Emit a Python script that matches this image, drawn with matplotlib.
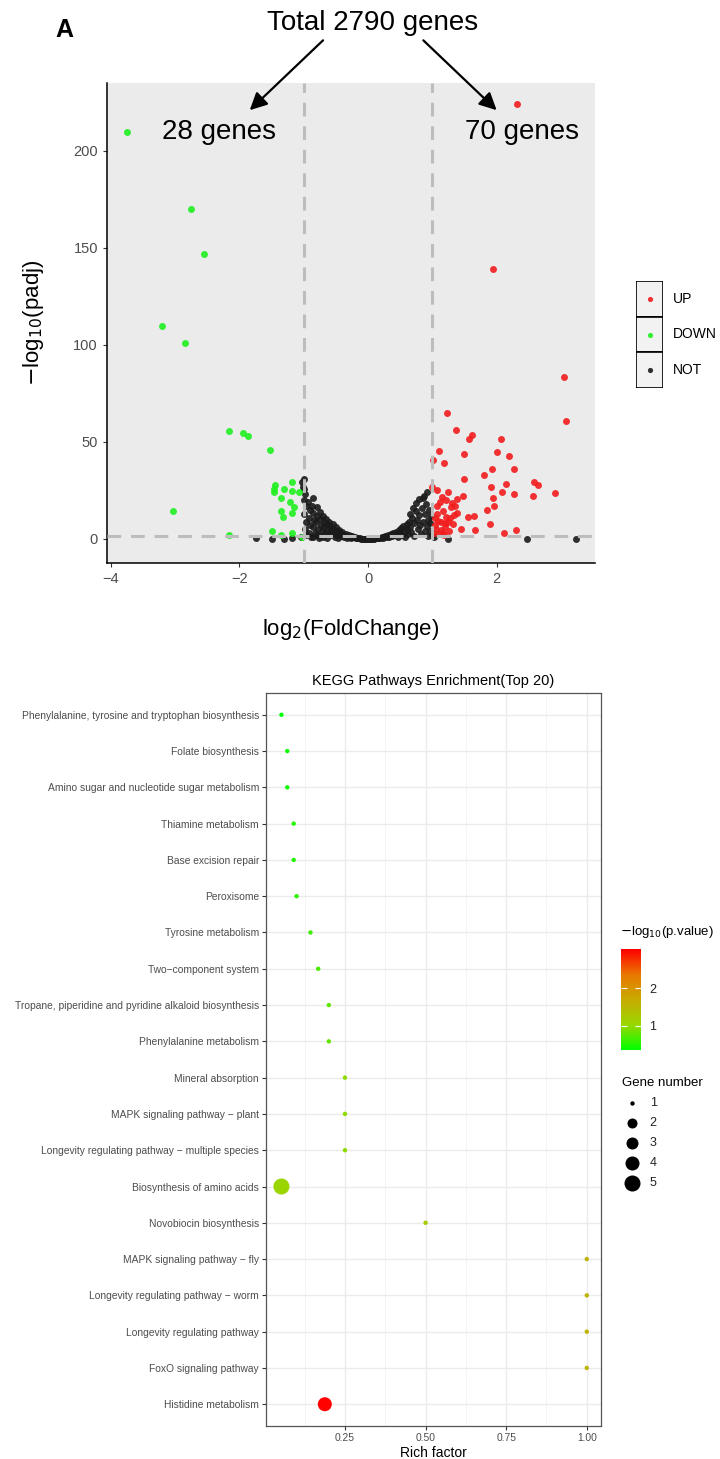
import numpy as np
import matplotlib.pyplot as plt
from matplotlib.colors import LinearSegmentedColormap
from matplotlib.patches import Rectangle

plt.rcParams['font.family'] = ['Liberation Sans', 'DejaVu Sans']

# ==========================================
# 1. Volcano data (log2FC, -log10 padj)
# ==========================================
UP_X = [2.32, 1.95, 3.04, 3.08, 1.23, 1.37, 1.57, 1.62, 2.07, 1.11, 1.01, 1.18, 1.49, 2.00,
        2.19, 1.93, 2.27, 1.81, 1.49, 2.58, 2.65, 2.15, 1.91, 1.00, 1.07, 1.24, 2.08, 2.27,
        2.56, 2.90, 1.47, 1.94, 1.15, 1.21, 1.30, 1.39, 1.29, 1.96, 1.85, 1.16, 1.39, 1.33,
        1.07, 1.55, 1.65, 1.04, 1.22, 1.28, 1.14, 1.20, 1.32, 1.89, 1.44, 1.66, 2.30, 2.11,
        1.02, 1.06, 1.10, 1.13, 1.17, 1.20, 1.08, 1.12, 1.25, 1.35, 1.04, 1.18, 1.26, 1.09]
UP_Y = [224, 139, 83.7, 61, 65.1, 56, 51.7, 53.4, 51.5, 45.2, 40.6, 39.2, 43.8, 44.7,
        42.8, 36.2, 36.1, 33, 30.9, 29.5, 28, 28.2, 26.6, 27, 25.3, 24.1, 24.1, 23.2,
        22, 23.7, 22, 21.3, 21.5, 20.1, 18.4, 20.5, 16.5, 17.2, 15, 14.6, 13.6, 12.2,
        12.7, 11.5, 11.9, 10.6, 11.5, 10.6, 8.6, 8.1, 7.6, 7.9, 5.2, 4.8, 4.8, 2.9,
        3, 5, 2.5, 4.5, 3, 6, 17, 19, 9, 17, 7, 2, 4, 9.5]

DOWN_X = [-3.75, -2.75, -2.55, -3.20, -2.85, -3.04, -2.17, -1.94, -1.86, -1.52, -2.17, -1.49,
          -1.36, -1.18, -1.02, -1.44, -1.46, -1.47, -1.30, -1.18, -1.18, -1.08, -1.35, -1.22,
          -1.15, -1.35, -1.18, -1.32]
DOWN_Y = [210, 170, 147, 110, 101, 14.6, 55.8, 54.8, 53.3, 45.7, 2, 4.1,
          2, 2.9, 1.2, 28, 25.6, 24, 25.9, 29.4, 24.6, 24.2, 21, 18.9,
          16.7, 14.6, 13.6, 11.2]

NOT_X = [-1.02, -1.00, -1.01, -0.99, -0.98, -1.00, -0.97, -0.99, -0.96, -0.98, -0.97,
         -0.93, -0.91, -0.92, -0.90, -0.92, -0.89,
         -0.86, -0.87, -0.85, -0.84, -0.86, -0.83, -0.85,
         -0.80, -0.79, -0.81, -0.78, -0.80, -0.77,
         -0.75, -0.74, -0.73, -0.72, -0.74,
         -0.70, -0.69, -0.68, -0.67, -0.70,
         -0.65, -0.64, -0.63, -0.62, -0.64,
         -0.60, -0.59, -0.58, -0.57,
         -0.55, -0.54, -0.53, -0.52,
         -0.50, -0.49, -0.48, -0.47,
         -0.45, -0.44, -0.42,
         -0.40, -0.39, -0.37,
         -0.35, -0.34, -0.32,
         -0.30, -0.28, -0.26,
         -0.25, -0.23, -0.20, -0.19, -0.17, -0.15, -0.13, -0.11, -0.09, -0.07, -0.05, -0.03, -0.01,
         0.01, 0.03, 0.05, 0.07, 0.09, 0.11, 0.13, 0.15, 0.17, 0.19, 0.21, 0.23, 0.25, 0.27,
         0.29, 0.31, 0.33, 0.35, 0.37, 0.39, 0.41, 0.43, 0.45, 0.46, 0.48, 0.50, 0.52, 0.53,
         0.55, 0.57, 0.58, 0.60, 0.61, 0.62, 0.64, 0.65, 0.66, 0.67, 0.69, 0.70, 0.71, 0.72,
         0.74, 0.75, 0.76, 0.77, 0.79, 0.80, 0.81, 0.82, 0.84, 0.85, 0.86, 0.87, 0.88, 0.89,
         0.90, 0.91, 0.92, 0.93, 0.94, 0.95, 0.96, 0.97, 0.98, 0.99,
         -1.74, -1.50, -1.18, -1.05, -1.30, 1.03, 1.25, 2.47, 3.23]
NOT_Y = [29.5, 31, 27, 25.5, 23, 20, 17, 13, 9, 5, 2,
         19, 15, 11, 7, 3, 1,
         21, 17, 13.5, 10, 6, 3, 0.8,
         16.5, 12, 8.5, 5, 2, 0.5,
         14, 10.5, 7, 4, 1.5,
         12, 9, 6, 3, 1,
         10.5, 7.5, 5, 2.5, 0.6,
         9, 6.5, 4, 1.8,
         7.5, 5, 3, 1,
         6, 4, 2.2, 0.7,
         4.8, 3, 1.5,
         3.8, 2.2, 1,
         2.8, 1.5, 0.6,
         2, 1.1, 0.4,
         1.5, 0.8, 1, 0.4, 0.6, 0.3, 0.4, 0.2, 0.15, 0.1, 0.05, 0.02, 0,
         0, 0.03, 0.06, 0.1, 0.2, 0.25, 0.35, 0.5, 0.4, 0.7, 0.9, 0.6, 1.2, 1.5,
         0.8, 2, 1.2, 2.6, 1.6, 3.2, 2, 3.8, 2.5, 1, 4.5, 3, 5.5, 2,
         6.5, 4, 1, 7.5, 5, 2.5, 9, 6, 13, 3.5, 11, 16, 8, 1.5,
         14.5, 18.5, 10, 5, 20.5, 12.5, 7, 2.5, 16, 21, 9, 22, 4, 13,
         18, 6.5, 24, 10, 1.5, 15, 4, 8, 12, 2,
         0.3, 0.2, 0.5, 1, 0.1, 1, 0.2, 0.1, 0.1]

GROUPS = ['UP', 'DOWN', 'NOT']
GROUP_COLORS = {'UP': '#F21D1D', 'DOWN': '#1FF01F', 'NOT': '#1A1A1A'}

# ==========================================
# 2. KEGG enrichment data
# ==========================================
PATHWAYS = ['Phenylalanine, tyrosine and tryptophan biosynthesis', 'Folate biosynthesis',
            'Amino sugar and nucleotide sugar metabolism', 'Thiamine metabolism',
            'Base excision repair', 'Peroxisome', 'Tyrosine metabolism', 'Two\u2212component system',
            'Tropane, piperidine and pyridine alkaloid biosynthesis', 'Phenylalanine metabolism',
            'Mineral absorption', 'MAPK signaling pathway \u2212 plant',
            'Longevity regulating pathway \u2212 multiple species', 'Biosynthesis of amino acids',
            'Novobiocin biosynthesis', 'MAPK signaling pathway \u2212 fly',
            'Longevity regulating pathway \u2212 worm', 'Longevity regulating pathway',
            'FoxO signaling pathway', 'Histidine metabolism']
RICH_FACTOR = [0.053, 0.071, 0.071, 0.091, 0.091, 0.10, 0.143, 0.167, 0.20, 0.20,
               0.25, 0.25, 0.25, 0.053, 0.50, 1.0, 1.0, 1.0, 1.0, 0.1875]
NEG_LOG_P = [0.36, 0.42, 0.43, 0.50, 0.50, 0.55, 0.62, 0.67, 0.78, 0.78,
             0.98, 0.98, 0.98, 1.05, 1.20, 1.55, 1.55, 1.55, 1.55, 3.02]
GENE_NUMBER = [1, 1, 1, 1, 1, 1, 1, 1, 1, 1, 1, 1, 1, 5, 1, 1, 1, 1, 1, 4]
SIZE_LEVELS = [1, 2, 3, 4, 5]
SIZE_MAP = {1: 10, 2: 52, 3: 75, 4: 102, 5: 133}

# ==========================================
# 3. Figure
# ==========================================
fig = plt.figure(figsize=(7.2, 14.59), dpi=100)

# ---- volcano ----
ax = fig.add_axes([0.1486, 0.6141, 0.6778, 0.329])
ax.set_facecolor('#EBEBEB')
data = {'UP': (UP_X, UP_Y), 'DOWN': (DOWN_X, DOWN_Y), 'NOT': (NOT_X, NOT_Y)}
for g in ['NOT', 'DOWN', 'UP']:
    xs, ys = data[g]
    ax.scatter(xs, ys, s=25, color=GROUP_COLORS[g], alpha=0.9, linewidths=0, zorder=2)

for xv in (-1, 1):
    ax.axvline(xv, color='#BDBDBD', lw=2.2, ls=(0, (4.5, 3.2)), zorder=3)
ax.axhline(-np.log10(0.05), color='#BDBDBD', lw=2.2, ls=(0, (4.5, 3.2)), zorder=3)

ax.set_xlim(-4.06, 3.53)
ax.set_ylim(-12.4, 235)
ax.set_xticks([-4, -2, 0, 2])
ax.set_xticklabels(['\u22124', '\u22122', '0', '2'])
ax.set_yticks([0, 50, 100, 150, 200])
for side in ['top', 'right']:
    ax.spines[side].set_visible(False)
for side in ['left', 'bottom']:
    ax.spines[side].set_color('black')
    ax.spines[side].set_linewidth(1.1)
ax.tick_params(labelsize=10.5, labelcolor='#4D4D4D', length=3, color='#333333')
ax.set_xlabel(r'log$_2$(FoldChange)', fontsize=16, labelpad=22)
ax.set_ylabel(r'$-$log$_{10}$(padj)', fontsize=16, labelpad=20)

ax.text(-2.32, 210, '28 genes', fontsize=20, ha='center', va='center')
ax.text(2.39, 210, '70 genes', fontsize=20, ha='center', va='center')
ax.text(0.07, 266, 'Total 2790 genes', fontsize=20, ha='center', va='center', clip_on=False)
arrow = dict(arrowstyle='-|>', color='black', lw=1.6, mutation_scale=26, shrinkA=0, shrinkB=0)
ax.annotate('', xy=(-1.84, 221), xytext=(-0.70, 257), arrowprops=arrow, annotation_clip=False)
ax.annotate('', xy=(2.00, 221), xytext=(0.86, 257), arrowprops=arrow, annotation_clip=False)
fig.text(64 / 720, 1 - 30 / 1459, 'A', fontsize=18, fontweight='bold', ha='center', va='center')

# legend boxes (ggplot style keys)
lax = fig.add_axes([636 / 720, 1 - 388 / 1459, 27 / 720, 107 / 1459])
lax.set_xlim(0, 1)
lax.set_ylim(len(GROUPS), 0)
lax.axis('off')
for i, g in enumerate(GROUPS):
    lax.add_patch(Rectangle((0, i), 1, 1, facecolor='#F2F2F2', edgecolor='black', lw=1.2))
    lax.scatter([0.5], [i + 0.5], s=14, color=GROUP_COLORS[g], alpha=0.9, linewidths=0)
    lax.text(1.35, i + 0.5, g, fontsize=10, va='center', ha='left', clip_on=False)

# ---- KEGG bubble plot ----
cmap = LinearSegmentedColormap.from_list(
    'gr', ['#00FF00', '#98D700', '#C8AB00', '#E87700', '#FF0000'])
vmin, vmax = 0.35, 3.04

ax2 = fig.add_axes([0.3694, 0.02262, 0.4653, 0.5024])
ypos = np.arange(len(PATHWAYS), 0, -1)
sc = ax2.scatter(RICH_FACTOR, ypos, s=[SIZE_MAP[n] for n in GENE_NUMBER], c=NEG_LOG_P,
                 cmap=cmap, vmin=vmin, vmax=vmax, linewidths=0, zorder=3)
ax2.set_xlim(0.005, 1.044)
ax2.set_ylim(0.4, len(PATHWAYS) + 0.6)
ax2.set_yticks(ypos)
ax2.set_yticklabels(PATHWAYS)
ax2.set_xticks([0.25, 0.5, 0.75, 1.0])
ax2.set_xticklabels(['0.25', '0.50', '0.75', '1.00'])
ax2.set_xticks([0.125, 0.375, 0.625, 0.875], minor=True)
ax2.grid(which='major', color='#EBEBEB', lw=1.0, zorder=0)
ax2.grid(which='minor', axis='x', color='#F2F2F2', lw=0.6, zorder=0)
ax2.set_axisbelow(True)
for s in ax2.spines.values():
    s.set_color('#555555')
    s.set_linewidth(0.9)
ax2.tick_params(which='major', labelsize=7.4, labelcolor='#4D4D4D', length=3, color='#333333', pad=2)
ax2.tick_params(which='minor', length=0)
ax2.set_xlabel('Rich factor', fontsize=10, labelpad=2)
ax2.set_title('KEGG Pathways Enrichment(Top 20)', fontsize=10.5, pad=6)

# colorbar
cax = fig.add_axes([620.7 / 720, 1 - 1050 / 1459, 20.3 / 720, 100.7 / 1459])
cb = fig.colorbar(sc, cax=cax, ticks=[1, 2])
cb.outline.set_visible(False)
cax.tick_params(color='white', direction='in', length=4, width=0.8, labelsize=9,
                labelcolor='#222222', left=True, right=True, pad=6)
fig.text(620 / 720, 1 - 932 / 1459, r'$-$log$_{10}$(p.value)', fontsize=9.5, va='center')

# size legend
fig.text(622 / 720, 1 - 1083 / 1459, 'Gene number', fontsize=9.5, va='center')
sax = fig.add_axes([615 / 720, 1 - 1193 / 1459, 60 / 720, 100 / 1459])
sax.set_xlim(0, 1)
sax.set_ylim(len(SIZE_LEVELS) + 0.5, 0.5)
sax.axis('off')
for i, n in enumerate(SIZE_LEVELS):
    sax.scatter([0.28], [i + 1], s=SIZE_MAP[n], color='black', linewidths=0)
    sax.text(0.58, i + 1, str(n), fontsize=9, va='center', ha='left', color='#222222')

fig.savefig('out.png', dpi=100)
